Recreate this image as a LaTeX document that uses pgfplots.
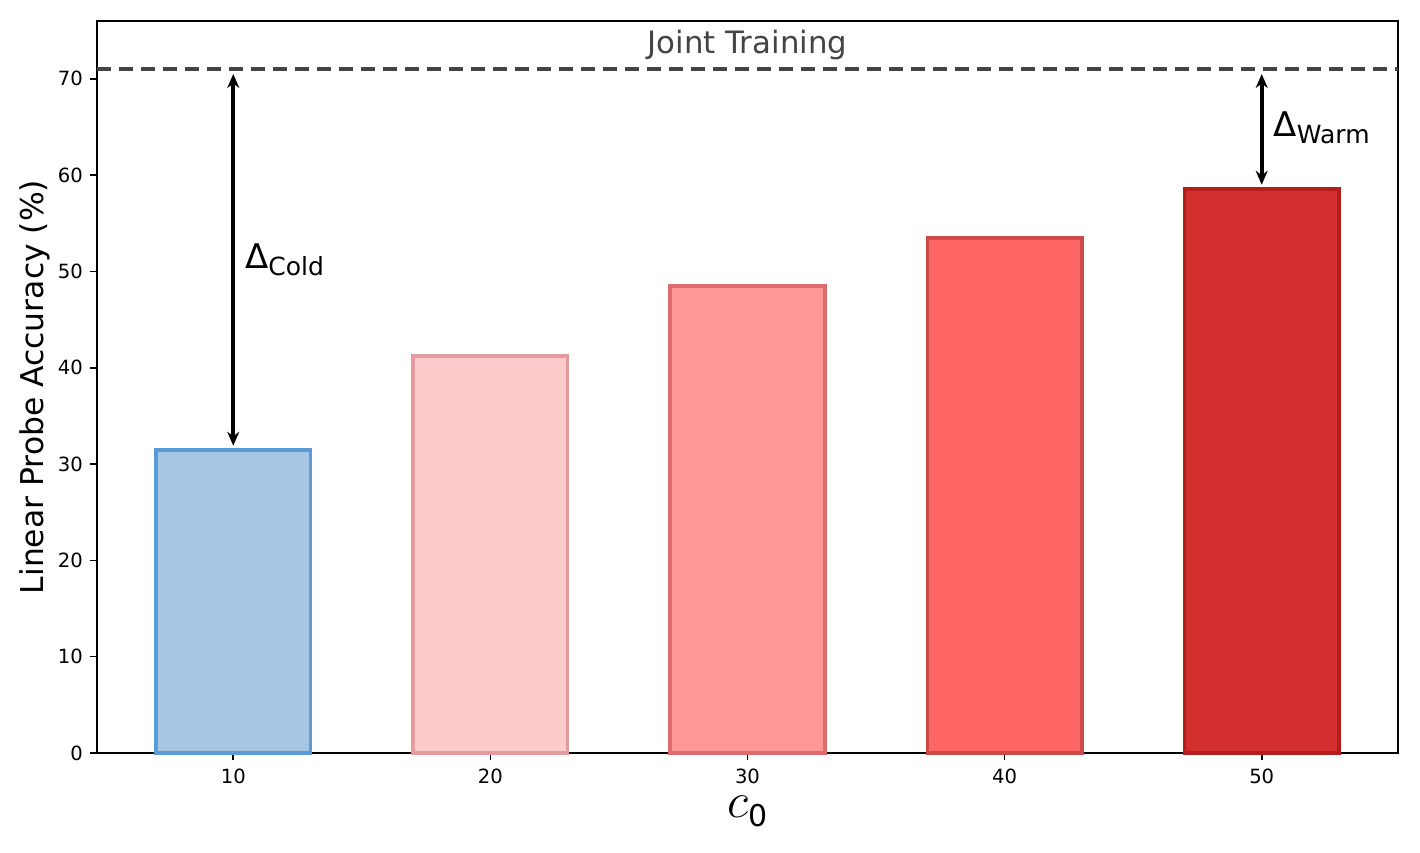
\documentclass[border=0pt]{standalone}
\usepackage{fontspec}
\setmainfont{DejaVu Sans}
\usepackage{pgfplots}
\pgfplotsset{compat=1.18}
\usetikzlibrary{arrows.meta}

\definecolor{b1fill}{HTML}{A6C6E4}\definecolor{b1edge}{HTML}{5B9BD5}
\definecolor{b2fill}{HTML}{FDCBCB}\definecolor{b2edge}{HTML}{E39B9D}
\definecolor{b3fill}{HTML}{FF9999}\definecolor{b3edge}{HTML}{DE6B6D}
\definecolor{b4fill}{HTML}{FF6666}\definecolor{b4edge}{HTML}{CC4A4A}
\definecolor{b5fill}{HTML}{D32F2F}\definecolor{b5edge}{HTML}{B71C1C}
\definecolor{jointgray}{HTML}{444444}

\begin{document}
\begin{tikzpicture}
\useasboundingbox (-48.5pt,-49.5pt) rectangle (661.5pt,376.5pt);
\begin{axis}[at={(0,0)}, anchor=south west, scale only axis,
  width=650.5pt, height=366pt,
  xmin=4.7, xmax=55.3, ymin=0, ymax=76,
  xtick={10,20,30,40,50}, ytick={0,10,...,70},
  tick pos=left, tick align=outside,
  major tick length=3.5pt,
  every tick/.style={black, line width=0.8pt},
  axis line style={line width=0.8pt},
  /pgf/number format/assume math mode=true,
  tick label style={font=\fontsize{9.8}{11}\selectfont},
  xticklabel style={yshift=-1pt},
  ylabel={Linear Probe Accuracy (\%)},
  ylabel style={font=\fontsize{15.7}{18}\selectfont, at={(axis description cs:-0.0477,0.5)}, anchor=center, rotate=0},
  xlabel={{\fontsize{23}{26}\selectfont$c$\raisebox{-0.35ex}{\fontsize{15}{15}\selectfont 0}}},
  xlabel style={at={(axis description cs:0.5,-0.08)}, anchor=center, inner sep=0pt},
  clip=false]
  \addplot[ybar, bar width=6, bar shift=0pt, fill=b1fill, draw=b1edge, line width=1.9pt] coordinates {(10,31.5)};
  \addplot[ybar, bar width=6, bar shift=0pt, fill=b2fill, draw=b2edge, line width=1.9pt] coordinates {(20,41.2)};
  \addplot[ybar, bar width=6, bar shift=0pt, fill=b3fill, draw=b3edge, line width=1.9pt] coordinates {(30,48.5)};
  \addplot[ybar, bar width=6, bar shift=0pt, fill=b4fill, draw=b4edge, line width=1.9pt] coordinates {(40,53.5)};
  \addplot[ybar, bar width=6, bar shift=0pt, fill=b5fill, draw=b5edge, line width=1.9pt] coordinates {(50,58.6)};
  % joint training reference
  \addplot[jointgray, line width=1.9pt, dash pattern=on 7pt off 4pt] coordinates {(4.7,71) (55.3,71)};
  \node[jointgray, font=\fontsize{15.4}{18}\selectfont] at (axis cs:30,73.5) {Joint Training};
  % gaps
  \addplot[black, line width=1.8pt, {Stealth[length=7pt,width=6pt]}-{Stealth[length=7pt,width=6pt]}] coordinates {(10,70.5) (10,31.9)};
  \addplot[black, line width=1.8pt, {Stealth[length=7pt,width=6pt]}-{Stealth[length=7pt,width=6pt]}] coordinates {(50,70.5) (50,59.0)};
  \node[anchor=west, font=\fontsize{17}{20}\selectfont, inner sep=0pt] at (axis cs:10.45,51.2) {Δ\raisebox{-0.4ex}{\fontsize{12.5}{14}\selectfont Cold}};
  \node[anchor=west, font=\fontsize{17}{20}\selectfont, inner sep=0pt] at (axis cs:50.45,64.9) {Δ\raisebox{-0.4ex}{\fontsize{12.5}{14}\selectfont Warm}};
\end{axis}
\end{tikzpicture}
\end{document}
